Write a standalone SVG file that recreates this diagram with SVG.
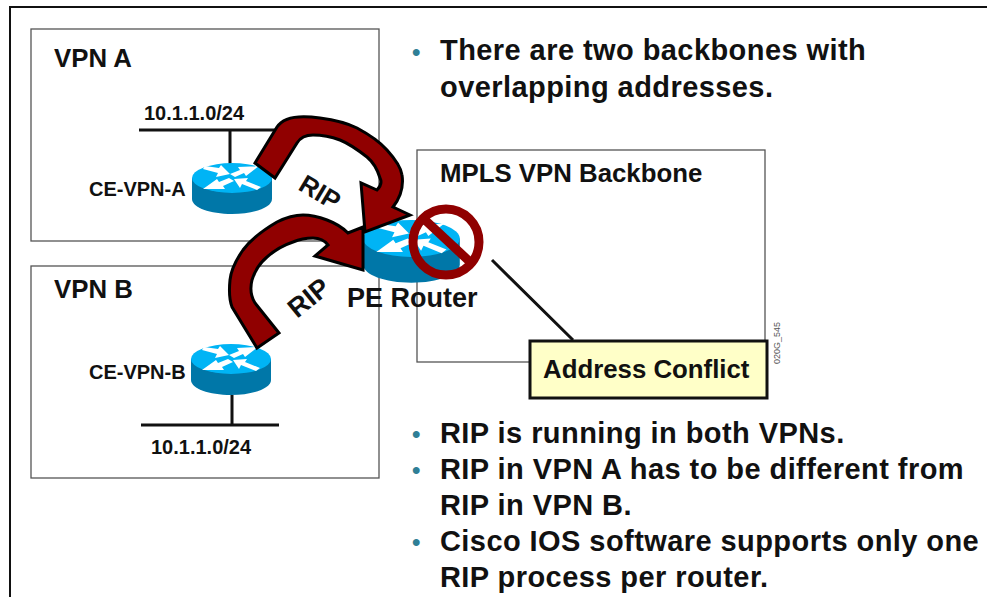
<svg xmlns="http://www.w3.org/2000/svg" width="987" height="597" viewBox="0 0 987 597">
<defs>
<g id="router">
<path d="M0 15V36C0 44.500 18 51 40 51S80 44.500 80 36V15Z" fill="#0077a8"/>
<ellipse cx="40" cy="15" rx="40" ry="15" fill="#00b4f5"/>
<g fill="#fff">
<polygon points="13,3 27,5 29,2 38,11 24,14 26,10 11,6"/>
<polygon points="67,3 54,13 52,10 43,14 38,11 48,7 46,4"/>
<polygon points="11,26 25,16 27,19 37,15 42,18 31,23 33,26"/>
<polygon points="42,16 56,15 54,18 69,24 65,27 50,21 48,25"/>
</g>
</g>
</defs>
<style>
text{font-family:"Liberation Sans",Arial,sans-serif;font-weight:700;fill:#111}
.box{fill:#fff;stroke:#555;stroke-width:1.3}
.big{font-size:29px;letter-spacing:.43px}
.mid{font-size:25.800px}
.pe{font-size:27px}
.sm{font-size:20px}
.bul{font-size:24px;fill:#2f7f96}
.tag{font-size:9px;font-weight:400;fill:#555}
.arrow{fill:#900000;stroke:#000;stroke-width:3;stroke-linejoin:miter}
.wire{stroke:#111;stroke-width:3;fill:none}
.no{fill:none;stroke:#900000;stroke-width:9}
</style>
<rect width="987" height="597" fill="#fff"/>
<path d="M10 597V7H987" fill="none" stroke="#111" stroke-width="2"/>
<g id="vpn-a"><rect class="box" x="31" y="29" width="348" height="212"/><text class="mid" x="54" y="67">VPN A</text></g>
<g id="vpn-b"><rect class="box" x="31" y="266" width="348" height="212"/><text class="mid" x="54" y="298">VPN B</text></g>
<g id="backbone"><rect class="box" x="417" y="150" width="348" height="212"/><text class="mid" x="440" y="182">MPLS VPN Backbone</text></g>
<g id="connectors">
<path class="wire" d="M139 130H285M230 130V164M141 425H279M232 395V425M492 260L573 340"/>
</g>
<g id="ce-vpn-a"><use href="#router" x="192" y="163"/><text class="sm" x="89" y="196">CE-VPN-A</text><text class="sm" x="144" y="120">10.1.1.0/24</text></g>
<g id="ce-vpn-b"><use href="#router" x="191" y="344"/><text class="sm" x="89" y="379">CE-VPN-B</text><text class="sm" x="151" y="454">10.1.1.0/24</text></g>
<g id="pe-router"><use href="#router" transform="translate(363 220) scale(1.21 1.23)"/><text class="pe" x="347" y="307">PE Router</text></g>
<g id="rip-arrows">
<path class="arrow" d="M255 163L277 127C284 116 300 115 320 118C335 120 347 123 357 128C370 135 380 142 387 150C396 160 401 167 402 175C404 188 400 198 393 207L410 215L365 232L361 183L377 190C381 186 382 182 380 178C377 168 373 162 367 157C358 150 350 144 340 140C332 137 322 135 313 135C305 135 300 138 297 143L275 178Z"/>
<path class="arrow" d="M257 348L279 333L255 303C250 295 250 288 252 280C255 270 260 263 267 257C275 250 284 245 293 242C300 239 307 238 313 238C320 238 325 241 328 245L315 256L363 270V227L348 233C342 227 335 223 327 220C319 217 311 215 303 215C294 215 285 218 277 222C265 229 252 238 243 250C236 260 231 270 230 280C229 290 229 299 232 307Z"/>
<text class="mid" transform="translate(297 189) rotate(31)">RIP</text>
<text class="pe" transform="translate(297 319) rotate(-39)">RIP</text>
</g>
<g id="no-symbol"><circle class="no" cx="446" cy="242" r="33"/><path class="no" d="M424 219L469 261"/></g>
<g id="conflict"><rect x="530" y="341" width="237" height="57" fill="#ffffc8" stroke="#111" stroke-width="3"/><text class="mid" x="543" y="378">Address Conflict</text></g>
<text class="tag" transform="translate(780 364) rotate(-90)">020G_545</text>
<g id="text-top">
<text class="bul" x="412" y="60">•</text><text class="big" x="440" y="60">There are two backbones with</text>
<text class="big" x="440" y="97">overlapping addresses.</text>
</g>
<g id="text-bottom">
<text class="bul" x="412" y="442">•</text><text class="big" x="440" y="443">RIP is running in both VPNs.</text>
<text class="bul" x="412" y="478">•</text><text class="big" x="440" y="479">RIP in VPN A has to be different from</text>
<text class="big" x="440" y="515">RIP in VPN B.</text>
<text class="bul" x="412" y="550">•</text><text class="big" x="440" y="551">Cisco IOS software supports only one</text>
<text class="big" x="440" y="587">RIP process per router.</text>
</g>
</svg>
